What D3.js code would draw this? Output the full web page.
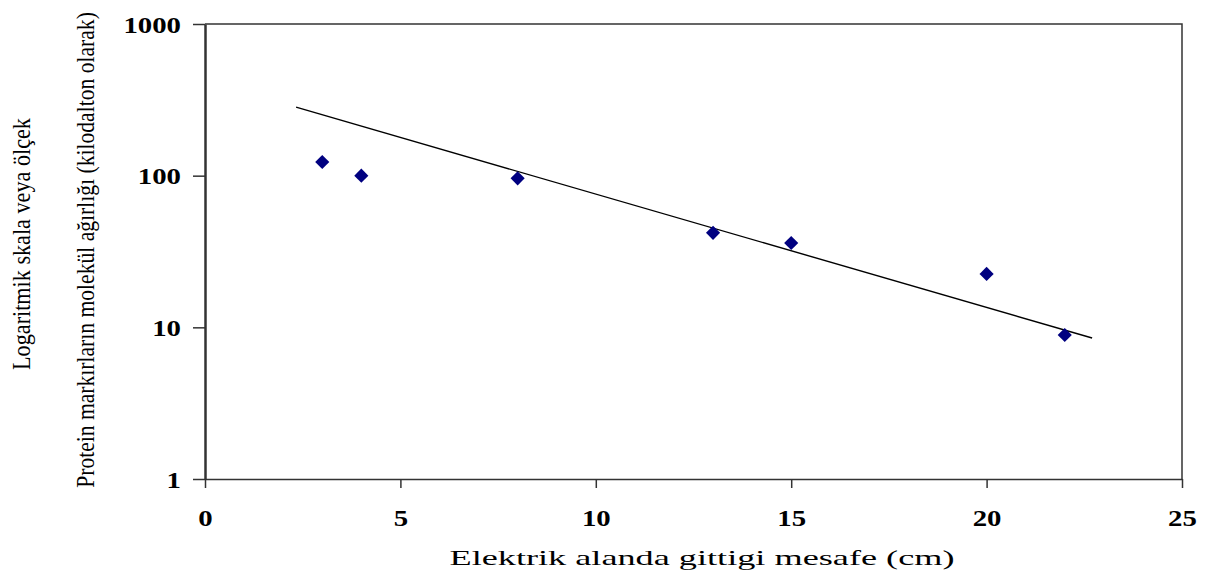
<!DOCTYPE html>
<html>
<head>
<meta charset="utf-8">
<script src="https://cdn.jsdelivr.net/npm/d3@7"></script>
<style>
  html, body { margin: 0; padding: 0; background: #fff; }
  svg { display: block; }
</style>
</head>
<body>
<svg id="chart" width="1210" height="578"></svg>
<script>
// ---- data ----
const distances = [3, 4, 8, 13, 15, 20, 22];          // cm
const weights   = [123, 100, 96, 42, 36, 22.5, 8.9];  // kDa
const trendX    = [2.33, 22.7];
const trendY    = [283, 8.5];
const xTicks    = [0, 5, 10, 15, 20, 25];
const yTicks    = [1, 10, 100, 1000];
const xTitle    = "Elektrik alanda gittigi mesafe (cm)";
const yTitle1   = "Logaritmik skala veya ölçek";
const yTitle2   = "Protein markırların molekül ağırlığı (kilodalton olarak)";

// ---- layout ----
const svg = d3.select("#chart");
const plotL = 205, plotT = 24, plotR = 1182, plotB = 479;
const serif = "'Liberation Serif', 'Times New Roman', serif";

const x = d3.scaleLinear().domain([0, 25]).range([plotL, plotR]);
const y = d3.scaleLog().domain([1, 1000]).range([plotB, plotT]);

const axisColor = "#333";

// frame (top + right)
svg.append("path")
  .attr("d", `M${plotL},${plotT}H${plotR}V${plotB}`)
  .attr("fill", "none").attr("stroke", axisColor).attr("stroke-width", 1.5);

// x axis
const gx = svg.append("g").attr("transform", `translate(0,${plotB})`)
  .call(d3.axisBottom(x).tickValues(xTicks).tickSize(9).tickSizeOuter(0).tickPadding(0).tickFormat(d3.format("d")));
gx.select(".domain").attr("stroke", axisColor).attr("stroke-width", 1.5);
gx.selectAll(".tick line").attr("stroke", axisColor).attr("stroke-width", 1.5);
gx.selectAll(".tick text")
  .attr("font-family", serif)
  .attr("font-weight", "bold").attr("font-size", 24).attr("fill", "#000")
  .attr("y", 47).attr("dy", 0)
  .attr("transform", "scale(1.2,1)");

// y axis
const gy = svg.append("g").attr("transform", `translate(${plotL},0)`)
  .call(d3.axisLeft(y).tickValues(yTicks).tickSize(12).tickSizeOuter(0).tickFormat(d3.format("d")));
gy.select(".domain").attr("stroke", axisColor).attr("stroke-width", 2.5);
gy.selectAll(".tick line").attr("stroke", axisColor).attr("stroke-width", 1.5);
gy.selectAll(".tick text")
  .attr("font-family", serif)
  .attr("font-weight", "bold").attr("font-size", 24).attr("fill", "#000")
  .attr("x", -24 / 1.2).attr("dy", "0.34em")
  .attr("transform", "scale(1.2,1)");

// trend line
svg.append("line")
  .attr("x1", x(trendX[0])).attr("y1", y(trendY[0]))
  .attr("x2", x(trendX[1])).attr("y2", y(trendY[1]))
  .attr("stroke", "#000").attr("stroke-width", 1.4);

// points
const diamond = d3.symbol().type(d3.symbolSquare).size(100);
svg.append("g").selectAll("path")
  .data(distances.map((d, i) => [d, weights[i]]))
  .join("path")
  .attr("d", diamond)
  .attr("transform", d => `translate(${x(d[0])},${y(d[1])}) rotate(45)`)
  .attr("fill", "#000080");

// titles, stretched/compressed to a target length via scale transform
function title(txt, size, cx, cy, rot, targetLen) {
  const t = svg.append("text")
    .attr("text-anchor", "middle")
    .attr("font-family", serif)
    .attr("font-size", size)
    .attr("fill", "#000")
    .text(txt);
  const natural = t.node().getComputedTextLength();
  const k = targetLen / natural;
  t.attr("transform", `translate(${cx},${cy}) rotate(${rot}) scale(${k},1)`);
  return t;
}

title(xTitle, 21, 702, 565, 0, 505).attr("letter-spacing", 0);
title(yTitle1, 26, 30, 244, -90, 252);
title(yTitle2, 26, 94, 250, -90, 476);
</script>
</body>
</html>
